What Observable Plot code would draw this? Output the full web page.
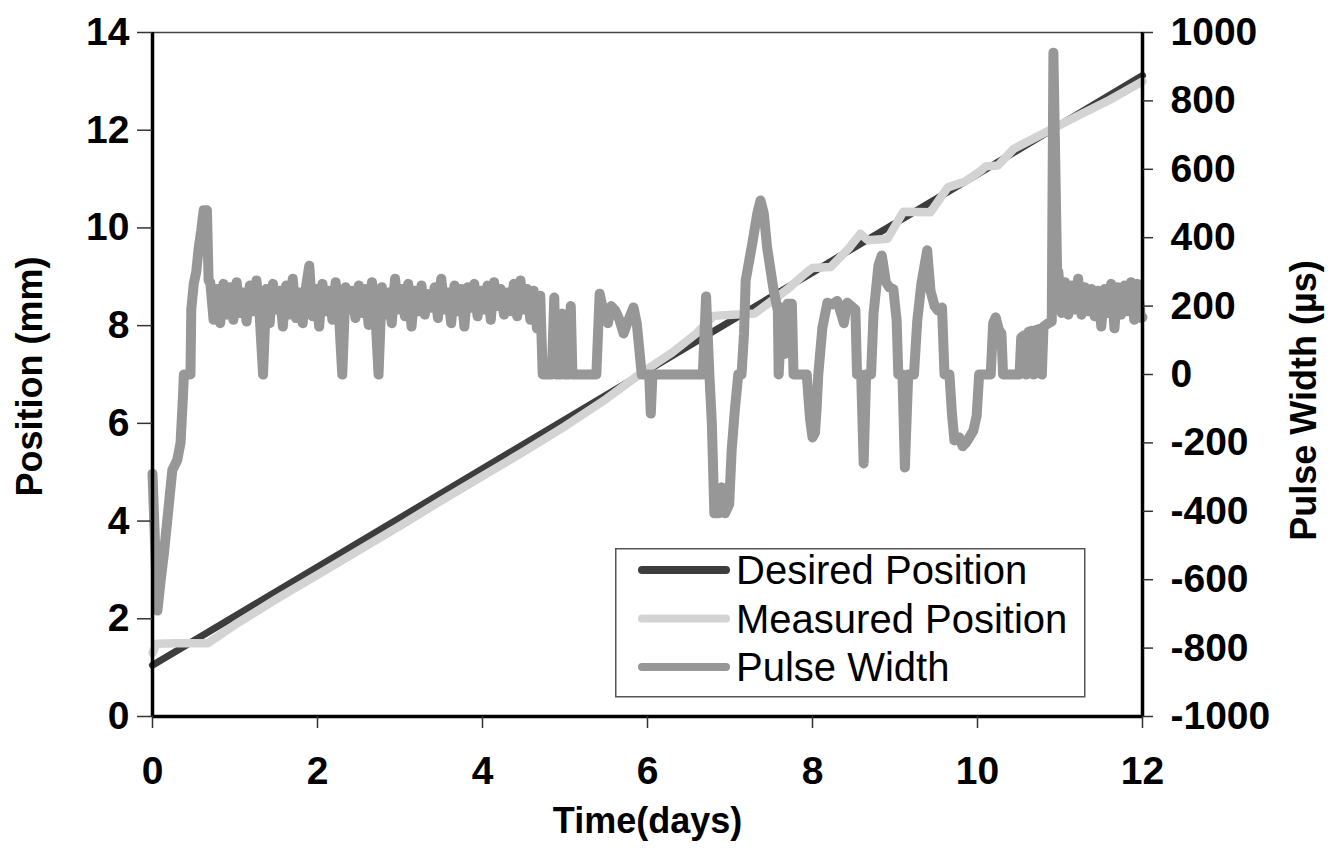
<!DOCTYPE html>
<html><head><meta charset="utf-8">
<script src="https://cdn.jsdelivr.net/npm/d3@7"></script>
<script src="https://cdn.jsdelivr.net/npm/@observablehq/plot@0.6"></script>
<style>
html,body{margin:0;padding:0;background:#fff;}
#wrap{position:relative;width:1344px;height:863px;overflow:hidden;}
#legend{position:absolute;left:615px;top:548px;}
</style></head><body><div id="wrap"></div>
<script>
// ---- data ----
const xTicks = [0, 2, 4, 6, 8, 10, 12];
const leftTicks = [0, 2, 4, 6, 8, 10, 12, 14];
const rightTicks = [-1000, -800, -600, -400, -200, 0, 200, 400, 600, 800, 1000];
const posMax = 14, pulseMin = -1000, pulseMax = 1000;

const desired = [[0, 1.05], [2, 3.06], [4, 5.07], [6, 7.08], [8, 9.09], [10, 11.10], [12, 13.12]];

const measured = [[0.00, 1.30], [0.05, 1.49], [0.30, 1.50], [0.67, 1.50], [1.0, 1.88], [1.5, 2.40], [2.0, 2.90],
  [2.5, 3.40], [3.0, 3.90], [3.5, 4.42], [4.0, 4.92], [4.5, 5.42], [5.0, 5.94], [5.5, 6.50], [5.9, 7.00],
  [6.3, 7.45], [6.6, 7.85], [6.8, 8.20], [7.3, 8.25], [7.5, 8.50], [7.7, 8.75], [7.9, 9.05], [8.0, 9.18],
  [8.22, 9.20], [8.45, 9.60], [8.58, 9.88], [8.67, 9.75], [8.91, 9.78], [9.1, 10.33], [9.43, 10.32],
  [9.64, 10.83], [9.85, 10.95], [10.04, 11.17], [10.1, 11.26], [10.25, 11.28], [10.44, 11.62],
  [10.85, 11.98], [11.2, 12.28], [11.6, 12.62], [12.0, 13.00]];

const pulseStart = [[0.00, -290], [0.06, -690], [0.10, -600], [0.14, -520], [0.19, -400], [0.24, -280],
  [0.30, -250], [0.34, -200], [0.37, -60], [0.38, 0], [0.46, 0], [0.47, 190], [0.50, 265], [0.53, 300],
  [0.56, 370], [0.59, 420], [0.62, 480], [0.66, 480], [0.68, 275]];

// samples every 0.04 day from day 0.70
const bandEarlyStart = 0.70, bandStep = 0.04;
const bandEarlyUs = [270,160,250,150,265,175,255,160,270,180, 240,155,260,185,275,170,0,250,150,265,
  190,245,140,260,175,280,165,240,150,255, 318,170,250,140,265,185,245,160,270,175,
  0,255,190,245,165,260,180,250,145,270, 185,0,255,175,240,150,280,190,250,170,
  265,140,245,185,260,175,235,195,255,165, 280,190,240,150,260,185,250,140,255,195,
  265,170,245,190,260,160,270,200,250,175, 240,185,265,170,275,190,250,160,245,135, 230];

const pulseMid = [[4.73,0],[4.84,0],[4.87,225],[4.89,0],[4.95,0],[4.97,178],[4.99,0],[5.05,0],[5.07,200],[5.09,0],
  [5.38,0],[5.42,236],[5.47,180],[5.52,150],[5.56,200],[5.61,187],[5.66,160],[5.71,120],[5.77,160],[5.83,196],
  [5.87,150],[5.93,0],[6.02,0],[6.04,-114],[6.06,0],[6.67,0],[6.71,228],[6.75,0],[6.78,-143],[6.81,-406],
  [6.86,-406],[6.90,-330],[6.94,-406],[6.99,-380],[7.02,-222],[7.06,-100],[7.10,0],[7.14,0],[7.17,120],
  [7.19,275],[7.27,383],[7.33,470],[7.37,509],[7.41,470],[7.45,371],[7.53,245],[7.58,187],[7.59,0],
  [7.63,196],[7.66,60],[7.70,207],[7.75,207],[7.77,0],[7.93,0],[7.97,-130],[8.00,-184],[8.03,-170],
  [8.05,-100],[8.07,0],[8.12,137],[8.18,210],[8.24,205],[8.30,215],[8.35,175],[8.38,150],[8.42,210],
  [8.47,200],[8.52,190],[8.54,0],[8.59,0],[8.62,-260],[8.65,0],[8.71,0],[8.74,178],[8.80,320],[8.84,348],
  [8.89,270],[8.93,255],[8.98,250],[9.02,158],[9.04,0],[9.09,0],[9.12,-272],[9.16,0],[9.23,0],[9.27,158],
  [9.32,266],[9.39,363],[9.43,245],[9.48,200],[9.52,187],[9.57,196],[9.60,0],[9.66,0],[9.69,-114],
  [9.72,-193],[9.78,-184],[9.82,-210],[9.86,-200],[9.91,-180],[9.95,-164],[9.99,-120],[10.02,0],[10.16,0],
  [10.19,150],[10.22,167],[10.26,130],[10.29,120],[10.31,0],[10.51,0],[10.53,108],[10.57,115],[10.59,0],
  [10.62,125],[10.66,128],[10.68,0],[10.71,130],[10.76,134],[10.78,0],[10.80,140],[10.86,150],[10.90,155],
  [10.92,941],[10.965,300]];

// samples every 0.04 day from day 10.98
const bandLateStart = 10.98;
const bandLateUs = [300,180,270,175,260,190,280,175,255,185,250,170,245,140,250,180,265,135,255,175,260,185,270,160,265,165];
const pulseEnd = [[12.0, 167]];

const legendLabels = ["Desired Position", "Measured Position", "Pulse Width"];
const seriesColors = ["#3d3d3d", "#d3d3d3", "#979797"];
const seriesWidths = [7, 8.5, 10];

// ---- build ----
const pulse = [
  ...pulseStart,
  ...bandEarlyUs.map((v, i) => [+(bandEarlyStart + i * bandStep).toFixed(2), v]),
  ...pulseMid,
  ...bandLateUs.map((v, i) => [+(bandLateStart + i * bandStep).toFixed(2), v]),
  ...pulseEnd
];
const toPos = us => (us - pulseMin) / (pulseMax - pulseMin) * posMax;
const fromPos = p => Math.round(p / posMax * (pulseMax - pulseMin) + pulseMin);

const font = "'Liberation Sans', Arial, sans-serif";
const lineOpts = i => ({x: d => d[0], stroke: seriesColors[i], strokeWidth: seriesWidths[i], strokeLinecap: "round", strokeLinejoin: "round"});
const chart = Plot.plot({
  width: 1344, height: 863,
  marginLeft: 152, marginRight: 202, marginTop: 32, marginBottom: 147,
  style: {fontFamily: font, background: "#fff", overflow: "visible"},
  x: {domain: [0, 12]},
  y: {domain: [0, posMax]},
  marks: [
    Plot.frame({stroke: "#444", strokeWidth: 1.5}),
    Plot.line(desired, {...lineOpts(0), y: d => d[1]}),
    Plot.line(measured, {...lineOpts(1), y: d => d[1]}),
    Plot.line(pulse, {...lineOpts(2), y: d => toPos(d[1])}),
    Plot.ruleX([0, 12], {stroke: "#000", strokeWidth: 3.5}),
    Plot.ruleY([0], {stroke: "#000", strokeWidth: 3.5}),
    Plot.axisX({ticks: xTicks, tickSize: 12, tickPadding: 28, fontSize: 39, fontWeight: "bold", label: null, stroke: "#333", strokeWidth: 1.5}),
    Plot.axisY({anchor: "left", ticks: leftTicks, tickSize: 15, tickPadding: 8, fontSize: 39, fontWeight: "bold", label: null, stroke: "#333", strokeWidth: 1.5}),
    Plot.axisY({anchor: "right", ticks: rightTicks.map(toPos), tickFormat: p => String(fromPos(p)), tickSize: 10, tickPadding: 18, fontSize: 39, fontWeight: "bold", label: null, stroke: "#333", strokeWidth: 1.5}),
    Plot.text(["Time(days)"], {frameAnchor: "bottom", dy: 116, fontSize: 36, fontWeight: "bold"}),
    Plot.text(["Position (mm)"], {frameAnchor: "left", textAnchor: "middle", dx: -122, dy: 2, rotate: -90, fontSize: 36, fontWeight: "bold"}),
    Plot.text(["Pulse Width (µs)"], {frameAnchor: "right", textAnchor: "middle", dx: 162, dy: 26, rotate: -90, fontSize: 36, fontWeight: "bold"})
  ]
});
const wrap = document.getElementById("wrap");
wrap.appendChild(chart);

// legend
const lg = d3.select(wrap).append("div").attr("id", "legend")
  .append("svg").attr("width", 471).attr("height", 150).style("font-family", font);
lg.append("rect").attr("x", 0.75).attr("y", 0.75).attr("width", 469).attr("height", 148)
  .attr("fill", "#fff").attr("stroke", "#555").attr("stroke-width", 1.5);
legendLabels.forEach((t, i) => {
  const cy = 22 + i * 48.5;
  lg.append("line").attr("x1", 27).attr("x2", 111).attr("y1", cy).attr("y2", cy)
    .attr("stroke", seriesColors[i]).attr("stroke-width", 8).attr("stroke-linecap", "round");
  lg.append("text").attr("x", 121).attr("y", cy).attr("dy", "0.35em")
    .attr("font-size", 40).attr("fill", "#000").text(t);
});
</script></body></html>
